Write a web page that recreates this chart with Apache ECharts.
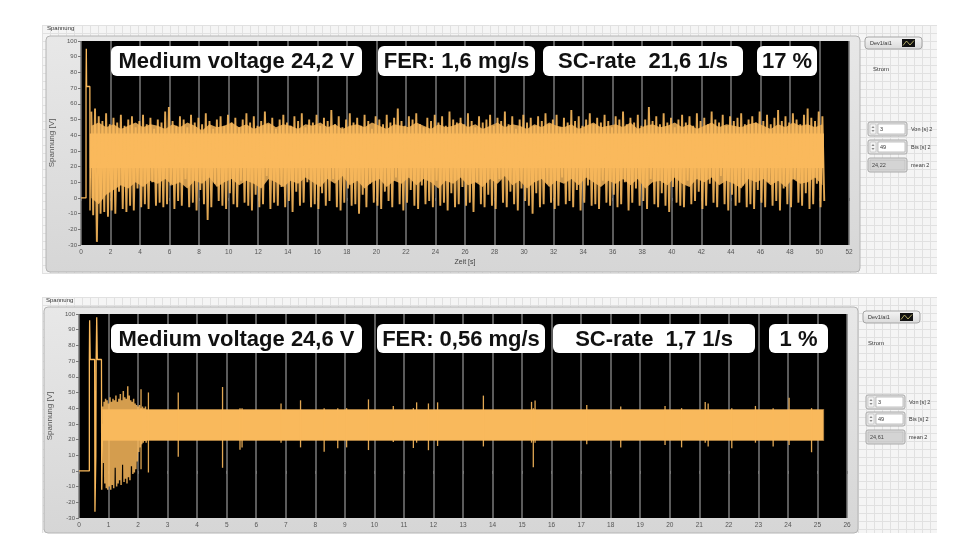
<!DOCTYPE html>
<html><head><meta charset="utf-8">
<script src="https://cdn.jsdelivr.net/npm/echarts@6/dist/echarts.min.js"></script>
<style>html,body{margin:0;padding:0;background:#fff}#c{width:980px;height:560px}</style>
</head><body><div id="c"></div>
<script>
// ---------------- DATA ----------------
// Top recording (Zeit 0..52 s)
const topStartT = [0, 0.34, 0.34, 0.36, 0.37, 0.38, 0.6, 0.61, 0.65];
const topStartV = [0, 0, 71, 95, 83, 71, 71, -8, 30];
// outer peaks/troughs of the oscillation, one pair per 0.25 s bin
const topBinT0 = 0.7, topBinDt = 0.25;
const topHi = [
55,57,52,49,54,47,51,48,53,46,50,52,45,49,53,47,51,44,50,48,
55,58,49,46,52,50,45,53,48,51,47,54,49,44,50,52,46,53,48,51,
45,50,54,48,52,46,49,55,47,51,44,50,53,48,46,52,49,54,45,50,
48,53,46,51,49,56,47,52,45,50,54,48,51,46,53,49,44,52,50,47,
53,48,51,57,49,46,52,50,54,47,45,51,49,53,48,52,46,55,50,48,
51,47,54,49,45,52,48,50,53,46,51,49,55,47,52,44,50,53,48,51,
46,52,49,54,47,50,53,45,51,48,56,49,52,46,50,54,47,51,48,53,
49,45,52,50,55,47,51,48,53,46,50,58,49,52,47,54,48,51,45,50,
53,48,52,46,54,49,51,47,55,50,48,53,46,52,49,51,54,47,50,52,
48,55,49,53,47,51,56,49,52,48,54,50,47,53,57,51,49,55,52];
const topLo = [
-11,-28,-10,-9,-12,-8,-10,4,-7,-9,-5,-8,6,-6,-4,-7,10,-5,-3,-6,
-4,8,-7,-2,-5,12,-6,-3,-8,5,-4,-14,-6,9,-2,-5,-7,3,-4,-6,
11,-3,-5,-8,2,-6,-4,14,-7,-3,-5,7,-6,-2,-9,4,-5,-3,10,-6,
-4,-7,3,-5,-2,12,-6,-8,-3,6,-5,-4,-10,2,-6,9,-3,-5,-7,4,
-2,-6,13,-4,-8,-3,5,-5,-7,8,-4,-2,-6,11,-5,-3,-8,3,-6,-4,
7,-5,-3,-9,10,-4,-6,2,-5,-7,12,-3,-6,4,-4,-8,6,-2,-5,-10,
3,-6,-4,9,-3,-7,-5,13,-4,-2,-6,5,-8,-3,8,-5,-4,-7,11,-3,
-5,2,-6,-4,10,-8,-3,6,-5,-2,-7,12,-4,-6,3,-5,-9,7,-3,-5,
-6,11,-4,-2,4,-7,-5,9,-3,-6,14,-4,-8,2,-5,-3,8,-6,-4,-7,
5,-3,-6,10,-5,-2,-8,6,-4,-6,12,-3,-5,3,-7,-4,9,-6,-2];
// limits of the dense (mostly filled) part, one pair per 0.5 s
const topInT0 = 0.7, topInDt = 0.5;
const topInHi = [
46,48,45,47,44,46,48,45,47,46,44,47,45,48,46,43,47,45,46,48,
45,47,44,46,48,45,47,46,44,47,46,48,45,47,44,46,47,45,48,46,
44,47,46,45,48,46,44,47,45,46,48,45,47,44,46,48,45,47,46,44,
47,45,48,46,45,47,44,46,48,45,46,47,45,48,44,46,47,45,46,48,
45,47,44,46,48,45,47,46,45,47,48,46,44,47,45,48,46,47,45,47];
const topInLo = [
0,-4,2,5,8,6,10,7,11,9,12,8,10,6,11,9,13,7,10,12,
8,11,9,6,12,10,7,11,9,13,10,7,12,9,14,8,11,6,10,12,
7,11,9,13,8,12,10,6,11,9,13,8,10,7,12,9,14,8,11,6,
10,12,7,11,9,12,8,13,10,7,11,9,12,8,12,6,10,11,8,13,
9,7,12,10,13,8,11,9,6,12,10,12,8,11,7,12,9,10,13,8];
// solid core of the signal: [start, end] time and [low, high] voltage
const topCoreT = [0.6, 50.3];
const topCoreV = [19, 41];
const topNotes = ['Medium voltage 24,2 V', 'FER: 1,6 mg/s', 'SC-rate  21,6 1/s', '17 %'];
const topCtrl = ['3', '49', '24,22'];

// Bottom recording (Zeit 0..26 s)
const botStartT = [0, 0.35, 0.35, 0.36, 0.37, 0.38, 0.53, 0.54, 0.55, 0.57, 0.58, 0.6, 0.61, 0.62, 0.63, 0.76, 0.77, 0.8];
const botStartV = [0, 0, 71, 96, 84, 71, 71, -26, -25, 9, 71, 98, 85, 71, 71, 71, -12, 30];
const botTrT0 = 0.8, botTrDt = 0.05;
const botTrHi = [41,44,46,45,43,47,44,46,45,48,44,46,49,45,51,47,46,54,48,45,44,46,43,42,41,42,40,41,40,41];
const botTrLo = [5,-8,-11,-12,-10,-12,-9,-11,2,-10,-8,-6,-9,4,-7,-5,-8,-4,-6,3,-2,-1,1,6,12,15,17,18,19,18];
const botSpikeT  = [2.1,2.35,3.36,4.86,5.45,5.52,6.84,7.5,8.3,8.76,9.06,9.8,10.64,11.32,11.43,11.83,12.14,13.69,15.32,15.38,15.44,17.19,18.34,19.84,20.4,21.2,21.3,22.1,22.9,23.5,24.04,24.8];
const botSpikeLo = [1,-1,9,2,13.5,15,18,15,12.2,14.5,15,13.3,18.5,14.6,18,13.2,15.9,15.6,18,2.3,18,17,15,16.5,15,18,15.6,14.5,18,15.6,16.5,11.9];
const botSpikeHi = [52,50,50,53.5,40,40,43,45,40,40,40,45.6,41.4,40,43.7,43,43.7,48,44,40,44.8,42,41,41.3,40,44,43,40,41.4,40,46.7,40];
const botCoreT = [0.8, 25.2];
const botCoreV = [19.5, 39];
const botNotes = ['Medium voltage 24,6 V', 'FER: 0,56 mg/s', 'SC-rate  1,7 1/s', '1 %'];
const botCtrl = ['3', '49', '24,61'];

const yMin = -30, yMax = 100, yStep = 10;
const topXMax = 52, topXStep = 2, botXMax = 26, botXStep = 1;

// ---------------- CHART ----------------
const ORANGE = '#F9B95C';
const DIM = '#CF9A4E';
const FONT = '"Liberation Sans", Arial, sans-serif';
const chart = echarts.init(document.getElementById('c'), null, {renderer: 'canvas', width: 980, height: 560});

function vline(width, opacity) {
  return function (params, api) {
    const p1 = api.coord([api.value(0), api.value(1)]);
    const p2 = api.coord([api.value(0), api.value(2)]);
    return {type: 'line', shape: {x1: p1[0], y1: p1[1], x2: p2[0], y2: p2[1]},
      style: {stroke: ORANGE, lineWidth: width, opacity: opacity}};
  };
}
// whole band drawn as one polygon through the axis scales
function bandRender(rows, color, stroke) {
  return function (params, api) {
    if (params.dataIndex !== 0) return null;
    const pts = [];
    rows.forEach(r => pts.push(api.coord([r[0], r[2]])));
    for (let i = rows.length - 1; i >= 0; i--) pts.push(api.coord([rows[i][0], rows[i][1]]));
    return {type: 'polygon', shape: {points: pts},
      style: stroke ? {fill: color, stroke: stroke, lineWidth: 1.5} : {fill: color}};
  };
}
// oscillating trace: each bin gives its peak, then its trough half a bin later
function zigzag(t0, dt, hi, lo) {
  const out = [];
  hi.forEach((h, i) => { out.push([t0 + i * dt, h]); out.push([t0 + i * dt + dt / 2, lo[i]]); });
  return out;
}

const topTrace = zigzag(topBinT0, topBinDt, topHi, topLo);
const topInner = topInHi.map((h, i) => [topInT0 + i * topInDt, topInLo[i], h]);
const topCore = topCoreT.map(t => [t, topCoreV[0], topCoreV[1]]);
const botCore = botCoreT.map(t => [t, botCoreV[0], botCoreV[1]]);
const botTr = zigzag(botTrT0, botTrDt, botTrHi, botTrLo);
const botSpikes = botSpikeT.map((t, i) => [t, botSpikeLo[i], botSpikeHi[i]]);

function xAxisCfg(idx, max, step, name) {
  return {
    gridIndex: idx, type: 'value', min: 0, max: max, interval: step,
    axisLine: {show: false},
    axisTick: {show: true, length: 3, lineStyle: {color: '#777'}},
    axisLabel: {fontSize: 6.5, color: '#555', margin: 4, fontFamily: FONT},
    splitLine: {show: true, lineStyle: {color: '#7a7a7a', width: 1.5}},
    name: name, nameLocation: 'middle', nameGap: 14,
    nameTextStyle: {fontSize: 7, color: '#444', fontFamily: FONT}
  };
}
function yAxisCfg(idx) {
  return {
    gridIndex: idx, type: 'value', min: yMin, max: yMax, interval: yStep,
    axisLine: {show: false},
    axisTick: {show: true, length: 3, lineStyle: {color: '#777'}},
    axisLabel: {fontSize: 6, color: '#555', margin: 4, fontFamily: FONT},
    splitLine: {show: false},
    name: 'Spannung [V]', nameLocation: 'middle', nameGap: 17, nameRotate: 90,
    nameTextStyle: {fontSize: 8, color: '#555', fontFamily: FONT}
  };
}

// ---------- decorations ----------
const G = [];
function panelBg(x, y, w, h) {
  G.push({type: 'rect', z: -5, silent: true, shape: {x: x, y: y, width: w, height: h}, style: {fill: '#f5f5f5'}});
  for (let gx = x; gx <= x + w; gx += 8)
    G.push({type: 'line', z: -4, silent: true, shape: {x1: gx + 0.5, y1: y, x2: gx + 0.5, y2: y + h}, style: {stroke: '#e1e1e1', lineWidth: 1}});
  for (let gy = y; gy <= y + h; gy += 8)
    G.push({type: 'line', z: -4, silent: true, shape: {x1: x, y1: gy + 0.5, x2: x + w, y2: gy + 0.5}, style: {stroke: '#e1e1e1', lineWidth: 1}});
}
function frame(x, y, w, h) {
  G.push({type: 'rect', z: -3, silent: true, shape: {x: x, y: y, width: w, height: h, r: 4},
    style: {fill: {type: 'linear', x: 0, y: 0, x2: 0, y2: 1, colorStops: [{offset: 0, color: '#e8e8e8'}, {offset: 1, color: '#d6d6d6'}]},
      stroke: '#b4b4b4', lineWidth: 1}});
}
function caption(x, y, t) {
  G.push({type: 'text', z: 5, silent: true, style: {x: x, y: y, text: t, font: '6px ' + FONT, fill: '#333', verticalAlign: 'middle'}});
}
function tbox(x, y, w, h, t) {
  G.push({type: 'rect', z: 20, silent: true, shape: {x: x, y: y, width: w, height: h, r: 6}, style: {fill: '#fff'}});
  G.push({type: 'text', z: 21, silent: true, style: {x: x + w / 2, y: y + h / 2 + 1, text: t, font: 'bold 22px ' + FONT, fill: '#111', align: 'center', verticalAlign: 'middle'}});
}
function devButton(x, y) {
  G.push({type: 'rect', z: 5, silent: true, shape: {x: x, y: y, width: 57, height: 12, r: 3},
    style: {fill: {type: 'linear', x: 0, y: 0, x2: 0, y2: 1, colorStops: [{offset: 0, color: '#f6f6f6'}, {offset: 1, color: '#d9d9d9'}]}, stroke: '#a5a5a5'}});
  G.push({type: 'text', z: 6, silent: true, style: {x: x + 5, y: y + 6, text: 'Dev1/ai1', font: '5.5px ' + FONT, fill: '#333', verticalAlign: 'middle'}});
  G.push({type: 'rect', z: 6, silent: true, shape: {x: x + 37, y: y + 2, width: 13, height: 8}, style: {fill: '#111'}});
  G.push({type: 'polyline', z: 7, silent: true, shape: {points: [[x + 38, y + 8.5], [x + 41.5, y + 4], [x + 45, y + 8], [x + 49, y + 3.5]]}, style: {stroke: '#d8cf7a', lineWidth: 0.8, fill: null}});
}
function numCtrl(x, y, val, label) {
  G.push({type: 'rect', z: 5, silent: true, shape: {x: x, y: y, width: 39, height: 14, r: 2}, style: {fill: '#e6e6e6', stroke: '#a9a9a9'}});
  G.push({type: 'rect', z: 6, silent: true, shape: {x: x + 2, y: y + 2, width: 6, height: 10, r: 1}, style: {fill: '#f4f4f4', stroke: '#b8b8b8', lineWidth: 0.6}});
  G.push({type: 'polygon', z: 7, silent: true, shape: {points: [[x + 3.5, y + 6], [x + 6.5, y + 6], [x + 5, y + 4]]}, style: {fill: '#888'}});
  G.push({type: 'polygon', z: 7, silent: true, shape: {points: [[x + 3.5, y + 8], [x + 6.5, y + 8], [x + 5, y + 10]]}, style: {fill: '#888'}});
  G.push({type: 'rect', z: 6, silent: true, shape: {x: x + 10, y: y + 2, width: 27, height: 10}, style: {fill: '#fff', stroke: '#9a9a9a', lineWidth: 0.6}});
  G.push({type: 'text', z: 7, silent: true, style: {x: x + 12, y: y + 7, text: val, font: '5.5px ' + FONT, fill: '#333', verticalAlign: 'middle'}});
  G.push({type: 'text', z: 7, silent: true, style: {x: x + 43, y: y + 7, text: label, font: '5.5px ' + FONT, fill: '#333', verticalAlign: 'middle'}});
}
function indCtrl(x, y, val, label) {
  G.push({type: 'rect', z: 5, silent: true, shape: {x: x, y: y, width: 39, height: 14, r: 2}, style: {fill: '#dedede', stroke: '#a9a9a9'}});
  G.push({type: 'rect', z: 6, silent: true, shape: {x: x + 2, y: y + 2, width: 35, height: 10}, style: {fill: '#d4d4d4', stroke: '#b5b5b5', lineWidth: 0.6}});
  G.push({type: 'text', z: 7, silent: true, style: {x: x + 4, y: y + 7, text: val, font: '5.5px ' + FONT, fill: '#444', verticalAlign: 'middle'}});
  G.push({type: 'text', z: 7, silent: true, style: {x: x + 43, y: y + 7, text: label, font: '5.5px ' + FONT, fill: '#333', verticalAlign: 'middle'}});
}

// top panel
panelBg(42, 25, 895, 249);
frame(46, 36, 814, 236);
caption(47, 28, 'Spannung');
tbox(111, 46, 251, 30, topNotes[0]);
tbox(378, 46, 157, 30, topNotes[1]);
tbox(543, 46, 200, 30, topNotes[2]);
tbox(757, 46, 60, 30, topNotes[3]);
devButton(865, 37);
G.push({type: 'text', z: 5, silent: true, style: {x: 873, y: 69, text: 'Strom', font: '6px ' + FONT, fill: '#333', verticalAlign: 'middle'}});
numCtrl(868, 122, topCtrl[0], 'Von [s] 2');
numCtrl(868, 140, topCtrl[1], 'Bis [s] 2');
indCtrl(868, 158, topCtrl[2], 'mean 2');

// bottom panel
panelBg(42, 297, 895, 236);
frame(44, 307, 814, 226);
caption(46, 300, 'Spannung');
tbox(111, 324, 251, 29, botNotes[0]);
tbox(377, 324, 168, 29, botNotes[1]);
tbox(553, 324, 202, 29, botNotes[2]);
tbox(769, 324, 59, 29, botNotes[3]);
devButton(863, 311);
G.push({type: 'text', z: 5, silent: true, style: {x: 868, y: 343, text: 'Strom', font: '6px ' + FONT, fill: '#333', verticalAlign: 'middle'}});
numCtrl(866, 395, botCtrl[0], 'Von [s] 2');
numCtrl(866, 412, botCtrl[1], 'Bis [s] 2');
indCtrl(866, 430, botCtrl[2], 'mean 2');

const option = {
  animation: false,
  backgroundColor: '#ffffff',
  grid: [
    {left: 81, top: 41, width: 768, height: 204, show: true, backgroundColor: '#000', borderWidth: 0},
    {left: 79, top: 314, width: 768, height: 204, show: true, backgroundColor: '#000', borderWidth: 0}
  ],
  xAxis: [xAxisCfg(0, topXMax, topXStep, 'Zeit [s]'), xAxisCfg(1, botXMax, botXStep, '')],
  yAxis: [yAxisCfg(0), yAxisCfg(1)],
  graphic: {elements: G},
  series: [
    // top
    {type: 'custom', xAxisIndex: 0, yAxisIndex: 0, data: topInner, renderItem: bandRender(topInner, DIM),
      encode: {x: 0, y: [1, 2]}, clip: true, silent: true, z: 2},
    {type: 'custom', xAxisIndex: 0, yAxisIndex: 0, data: topCore, renderItem: bandRender(topCore, ORANGE),
      encode: {x: 0, y: [1, 2]}, clip: true, silent: true, z: 3},
    {type: 'line', xAxisIndex: 0, yAxisIndex: 0, data: topStartT.map((t, i) => [t, topStartV[i]]), z: 4,
      showSymbol: false, silent: true, lineStyle: {color: ORANGE, width: 1.3}},
    {type: 'line', xAxisIndex: 0, yAxisIndex: 0, data: topTrace, showSymbol: false, silent: true, z: 4,
      sampling: null, lineStyle: {color: ORANGE, width: 1.9, opacity: 0.9, join: 'miter', miterLimit: 3}},
    // bottom
    {type: 'custom', xAxisIndex: 1, yAxisIndex: 1, data: botCore, renderItem: bandRender(botCore, ORANGE, 'rgba(249,185,92,0.55)'),
      encode: {x: 0, y: [1, 2]}, clip: true, silent: true, z: 3},
    {type: 'line', xAxisIndex: 1, yAxisIndex: 1, data: botStartT.map((t, i) => [t, botStartV[i]]), z: 4,
      showSymbol: false, silent: true, lineStyle: {color: ORANGE, width: 1.3}},
    {type: 'line', xAxisIndex: 1, yAxisIndex: 1, data: botTr, showSymbol: false, silent: true, z: 4,
      lineStyle: {color: ORANGE, width: 1.5, opacity: 0.85}},
    {type: 'custom', xAxisIndex: 1, yAxisIndex: 1, data: botSpikes, renderItem: vline(1.3, 0.9), z: 4,
      encode: {x: 0, y: [1, 2]}, clip: true, silent: true}
  ]
};
chart.setOption(option);
</script></body></html>
